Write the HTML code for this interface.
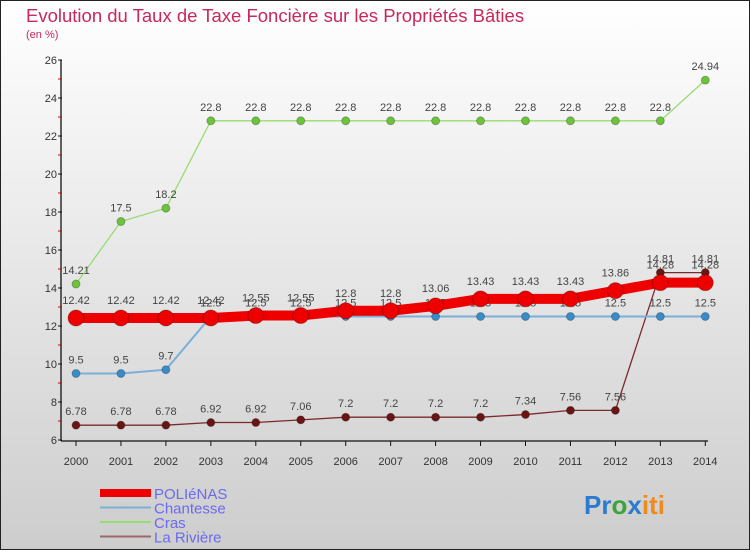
<!DOCTYPE html>
<html><head><meta charset="utf-8"><style>
html,body{margin:0;padding:0}
body{width:750px;height:550px;overflow:hidden;font-family:"Liberation Sans",sans-serif}
</style></head><body>
<svg id="chart" width="750" height="550" xmlns="http://www.w3.org/2000/svg">
<defs><linearGradient id="bg" x1="0" y1="0" x2="0" y2="1"><stop offset="0" stop-color="#ffffff"/><stop offset="1" stop-color="#cdcdcd"/></linearGradient></defs>
<rect x="0.5" y="0.5" width="749" height="549" fill="url(#bg)" stroke="#222"/>
<text x="26" y="22" font-size="18.5" fill="#c8285a">Evolution du Taux de Taxe Foncière sur les Propriétés Bâties</text>
<text x="26" y="38" font-size="11" fill="#c8285a">(en %)</text>
<g id="axes"></g>
<g id="series"></g>
<g id="legend"></g>
<text x="584" y="514" font-size="26" font-weight="bold"><tspan fill="#2b7bd0">Pr</tspan><tspan fill="#3aa53a">o</tspan><tspan fill="#2b7bd0">x</tspan><tspan fill="#f08a1c">iti</tspan></text>
</svg>
<script>
const years=[2000,2001,2002,2003,2004,2005,2006,2007,2008,2009,2010,2011,2012,2013,2014];
const yTicks=[6,8,10,12,14,16,18,20,22,24,26];
const names=["POLIéNAS","Chantesse","Cras","La Rivière"];
const polienas=[12.42,12.42,12.42,12.42,12.55,12.55,12.8,12.8,13.06,13.43,13.43,13.43,13.86,14.28,14.28];
const chantesse=[9.5,9.5,9.7,12.5,12.5,12.5,12.5,12.5,12.5,12.5,12.5,12.5,12.5,12.5,12.5];
const cras=[14.21,17.5,18.2,22.8,22.8,22.8,22.8,22.8,22.8,22.8,22.8,22.8,22.8,22.8,24.94];
const riviere=[6.78,6.78,6.78,6.92,6.92,7.06,7.2,7.2,7.2,7.2,7.34,7.56,7.56,14.81,14.81];
const NS="http://www.w3.org/2000/svg";
const x0=76,x1=705.3,yPix0=440,yPix1=60,yMin=6,yMax=26;
function xs(i){return x0+(x1-x0)*i/(years.length-1);}
function ys(v){return yPix0-(v-yMin)*(yPix0-yPix1)/(yMax-yMin);}
function mk(tag,attrs,parent){const e=document.createElementNS(NS,tag);for(const k in attrs)e.setAttribute(k,attrs[k]);parent.appendChild(e);return e;}
const axes=document.getElementById('axes');
let ya=mk('line',{x1:61,y1:60,x2:61,y2:441,stroke:'#111','stroke-width':1.3},axes);


let xa=mk('line',{x1:61,y1:441,x2:708,y2:441,stroke:'#111','stroke-width':1.3},axes);


yTicks.forEach(v=>{
 mk('line',{x1:58,y1:ys(v),x2:62,y2:ys(v),stroke:'#111'},axes);
 if(v<yMax) mk('line',{x1:58,y1:ys(v+1),x2:62,y2:ys(v+1),stroke:'#d00'},axes);
 const t=mk('text',{x:57,y:ys(v)+4,'font-size':11,'text-anchor':'end',fill:'#333'},axes);t.textContent=v;
 
 
});
years.forEach((y,i)=>{
 mk('line',{x1:xs(i),y1:441,x2:xs(i),y2:446,stroke:'#111'},axes);
 const t=mk('text',{x:xs(i),y:465,'font-size':11,'text-anchor':'middle',fill:'#333'},axes);t.textContent=y;
 
 
});
const series=document.getElementById('series');
const defs=[
 {d:riviere,c:'#7a2a2a',dot:'#6a1515',w:1.3,r:4,n:'la-riviere'},
 {d:chantesse,c:'#7ab0d8',dot:'#3a8cc8',w:2,r:4,n:'chantesse'},
 {d:cras,c:'#98dd70',dot:'#6cc43a',w:1.3,r:4,n:'cras'},
 {d:polienas,c:'#ee0000',dot:'#ee0000',w:10,r:8,n:'polienas'}];
defs.forEach(s=>{
 const g=mk('g',{},series);
 
 
 const pl=mk('polyline',{points:s.d.map((v,i)=>xs(i)+','+ys(v)).join(' '),fill:'none',stroke:s.c,'stroke-width':s.w},g);
 
 
 s.d.forEach((v,i)=>{
  const c=mk('circle',{cx:xs(i),cy:ys(v),r:s.r,fill:s.dot,stroke:'rgba(0,0,0,0.25)'},g);
  
  
  const t=mk('text',{x:xs(i),y:ys(v)-(s.r+6),'font-size':11,'text-anchor':'middle',fill:'#444'},g);
  t.textContent=String(v);
  
  
 });
});
const lg=document.getElementById('legend');
const lc=[['#ee0000',8],['#7ab0d8',2],['#98dd70',2],['#9a6a6a',2]];
names.forEach((n,i)=>{
 const y=493+i*14.5;
 const l=mk('line',{x1:100,y1:y,x2:151,y2:y,stroke:lc[i][0],'stroke-width':lc[i][1]},lg);
 
 
 const t=mk('text',{x:154,y:y+6,'font-size':15,fill:'#6a6af0'},lg);t.textContent=n;
 
 
});
</script>
</body></html>
